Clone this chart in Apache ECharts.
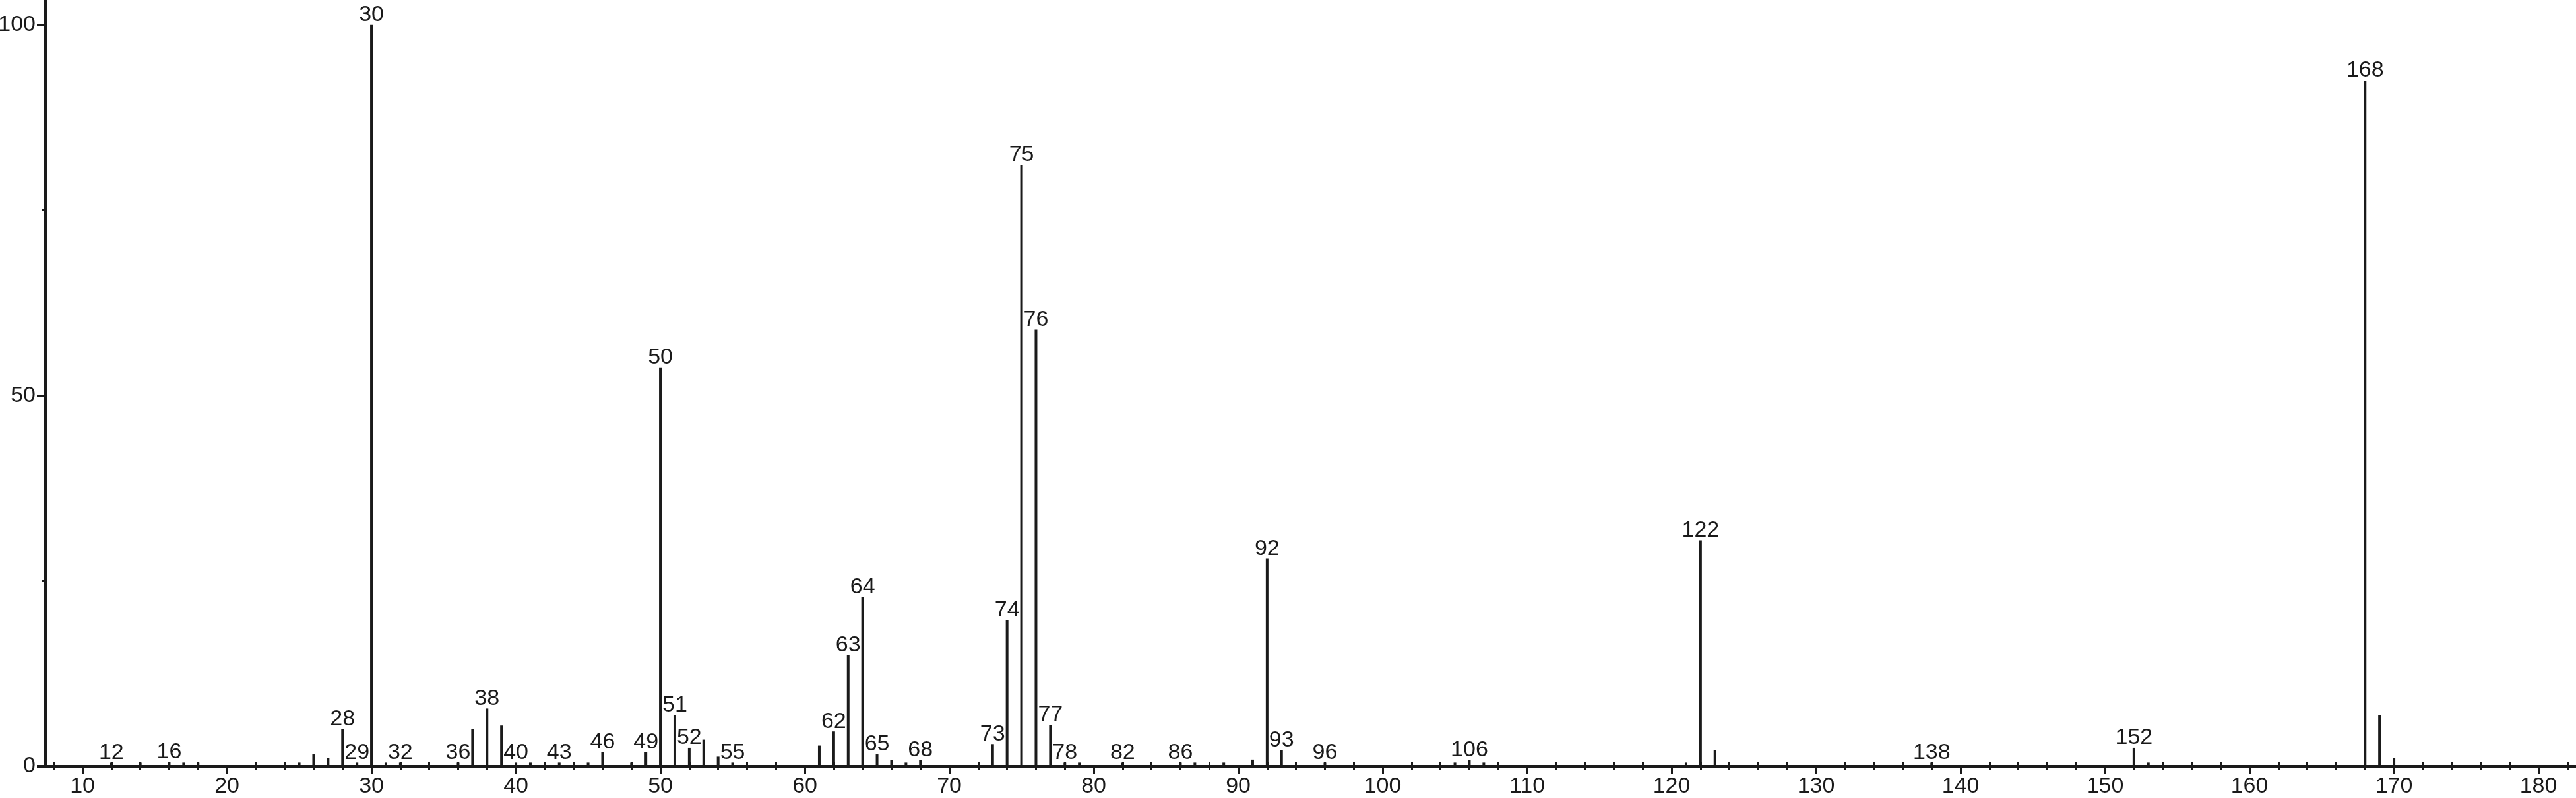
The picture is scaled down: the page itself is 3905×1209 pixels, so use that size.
<!DOCTYPE html>
<html>
<head>
<meta charset="utf-8">
<script src="https://cdn.jsdelivr.net/npm/echarts@6/dist/echarts.min.js"></script>
<style>
html,body{margin:0;padding:0;background:#fff;}
#chart{width:3905px;height:1209px;}
</style>
</head>
<body>
<div id="chart"></div>
<script>
// m/z values and relative intensities
const mzValues = [12,14,16,17,18,25,26,27,28,29,30,31,32,36,37,38,39,40,41,43,45,46,48,49,
  50,51,52,53,54,55,61,62,63,64,65,66,67,68,73,74,75,76,77,78,79,82,86,87,89,91,92,93,96,
  105,106,107,121,122,123,138,152,153,168,169,170];
const intensities = [0.5,0.5,0.6,0.5,0.5,0.5,1.6,1.1,5.0,0.5,100,0.5,0.5,0.5,5.0,7.8,5.5,0.5,0.5,0.5,0.5,1.9,0.5,1.9,
  53.8,6.9,2.5,3.6,1.3,0.5,2.8,4.7,15.0,22.8,1.6,0.8,0.5,0.8,3.0,19.7,81.1,58.9,5.6,0.5,0.5,0.5,0.5,0.5,0.5,0.9,28.0,2.2,0.5,
  0.5,0.8,0.5,0.5,30.5,2.2,0.5,2.5,0.5,92.5,6.9,1.1];
// peaks that carry an m/z label
const labeledPeaks = [12,16,28,29,30,32,36,38,40,43,46,49,50,51,52,55,62,63,64,65,68,73,74,75,76,77,78,82,86,92,93,96,106,122,138,152,168];
// axis tick labels
const xTickLabels = [10,20,30,40,50,60,70,80,90,100,110,120,130,140,150,160,170,180];
const xMinorTicks = [8,12,14,16,18,22,24,26,28,32,34,36,38,42,44,46,48,52,54,56,58,62,64,66,68,72,74,76,78,82,84,86,88,
  92,94,96,98,102,104,106,108,112,114,116,118,122,124,126,128,132,134,136,138,142,144,146,148,152,154,156,158,
  162,164,166,168,172,174,176,178,182];
const yTickLabels = [0,50,100];
const yMinorTicks = [25,75];

const X_MIN = 7.44, X_MAX = 182.6, Y_MIN = 0, Y_MAX = 103.36;
const INK = '#1a1a1a';
const FONT = "'Liberation Sans', Arial, sans-serif";
const FS = 34;

const data = mzValues.map((mz, i) => {
  const item = { value: [mz, intensities[i]] };
  if (labeledPeaks.indexOf(mz) >= 0) item.label = { show: true };
  return item;
});

const chart = echarts.init(document.getElementById('chart'), null, { renderer: 'canvas' });
chart.setOption({
  animation: false,
  backgroundColor: '#ffffff',
  grid: { left: 69, right: 0, top: 0, bottom: 48, containLabel: false, outerBoundsMode: 'none' },
  xAxis: [
    {
      type: 'value', min: X_MIN, max: X_MAX, position: 'bottom',
      axisLine: { show: true, onZero: false, lineStyle: { color: INK, width: 4 } },
      axisTick: { show: true, customValues: xTickLabels, length: 12, lineStyle: { color: INK, width: 3 } },
      axisLabel: { show: true, customValues: xTickLabels, margin: 14, color: INK, fontSize: FS, fontFamily: FONT },
      splitLine: { show: false }
    },
    {
      type: 'value', min: X_MIN, max: X_MAX, position: 'bottom', offset: -6,
      axisLine: { show: false },
      axisTick: { show: true, customValues: xMinorTicks, length: 12, lineStyle: { color: INK, width: 3 } },
      axisLabel: { show: false },
      splitLine: { show: false }
    }
  ],
  yAxis: [
    {
      type: 'value', min: Y_MIN, max: Y_MAX, position: 'left',
      axisLine: { show: true, onZero: false, lineStyle: { color: INK, width: 4 } },
      axisTick: { show: true, customValues: yTickLabels, length: 13, lineStyle: { color: INK, width: 4 } },
      axisLabel: { show: true, customValues: yTickLabels, margin: 15, color: INK, fontSize: FS, fontFamily: FONT },
      splitLine: { show: false }
    },
    {
      type: 'value', min: Y_MIN, max: Y_MAX, position: 'left',
      axisLine: { show: false },
      axisTick: { show: true, customValues: yMinorTicks, length: 6, lineStyle: { color: INK, width: 3 } },
      axisLabel: { show: false },
      splitLine: { show: false }
    }
  ],
  series: [
    {
      type: 'bar',
      xAxisIndex: 0, yAxisIndex: 0,
      barWidth: 4,
      itemStyle: { color: INK },
      label: {
        show: false, position: 'top', distance: -2,
        color: INK, fontSize: FS, fontFamily: FONT,
        formatter: p => String(p.value[0])
      },
      labelLayout: { hideOverlap: false },
      data: data
    }
  ]
});
</script>
</body>
</html>
